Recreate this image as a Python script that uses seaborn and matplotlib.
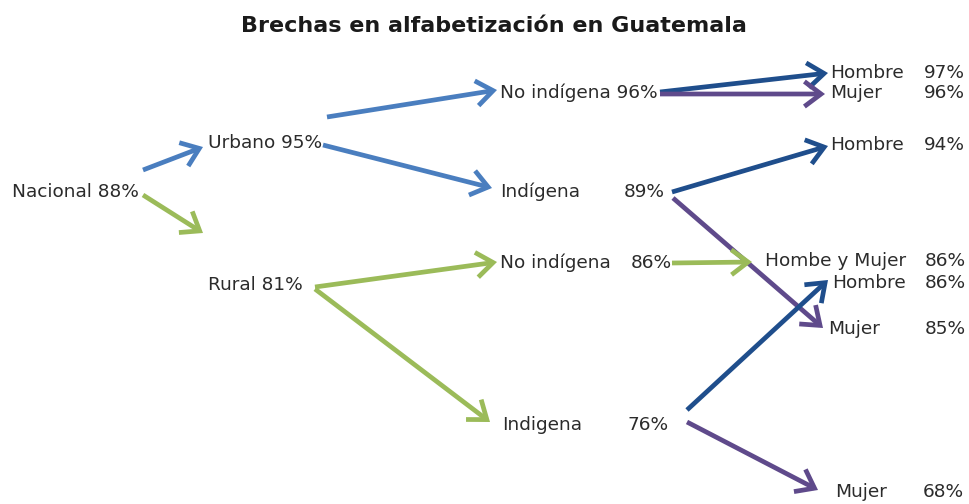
import matplotlib
matplotlib.use("Agg")
import matplotlib.pyplot as plt
from matplotlib.patches import FancyArrowPatch
import seaborn as sns

sns.set_theme(style="white")
plt.rcParams['font.family'] = ['DejaVu Sans']

title = "Brechas en alfabetización en Guatemala"

# Tree nodes: label and literacy rate (%)
labels = ["Nacional", "Urbano", "Rural",
          "No indígena", "Indígena", "No indígena", "Indigena",
          "Hombre", "Mujer", "Hombre", "Hombe y Mujer", "Hombre", "Mujer", "Mujer"]
values = [88, 95, 81, 96, 89, 86, 76, 97, 96, 94, 86, 86, 85, 68]

# Layout (pixel space): label x, y, value right edge (None -> value follows label)
label_x = [12, 208, 208, 500, 500, 500, 502, 830, 830, 830, 765, 832, 828, 835]
label_y = [192, 143, 285, 93, 192, 263, 425, 73, 93, 145, 261, 283, 329, 492]
value_r = [None, None, None, None, 665, 672, 669, 965, 965, 965, 966, 966, 966, 964]

# Edges: parent index -> child index, with style
edges_from = [0, 0, 1, 1, 2, 2, 3, 3, 4, 4, 5, 6, 6]
edges_to = [1, 2, 3, 4, 5, 6, 7, 8, 9, 12, 10, 11, 13]
edge_color = ["lightblue", "green", "lightblue", "lightblue", "green", "green",
              "darkblue", "purple", "darkblue", "purple", "green", "darkblue", "purple"]
# arrow start/end points (pixel space)
edge_start = [(143, 170), (143, 195), (327, 117), (323, 145), (315, 287), (315, 289),
              (660, 92), (660, 94), (672, 192), (673, 198), (672, 263), (687, 410), (687, 422)]
edge_end = [(203, 147), (203, 233), (497, 90), (492, 188), (497, 262), (490, 422),
            (828, 73), (825, 94), (828, 146), (823, 328), (752, 262), (828, 280), (818, 490)]

palette = {"lightblue": "#4a7ebf", "green": "#9bbb59",
           "darkblue": "#1f4e8c", "purple": "#5f4a8b"}

fig = plt.figure(figsize=(9.69, 5.04), dpi=100)
ax = fig.add_axes([0, 0, 1, 1])
ax.set_xlim(0, 969)
ax.set_ylim(504, 0)
ax.axis("off")

txt_color = "#2b2b2b"
fs = 13.3

for s, e, c in zip(edge_start, edge_end, edge_color):
    arr = FancyArrowPatch(s, e, arrowstyle="->,head_length=0.6,head_width=0.45",
                          mutation_scale=20, color=palette[c], lw=3.4,
                          shrinkA=0, shrinkB=0, capstyle="butt", joinstyle="miter")
    ax.add_patch(arr)

for lab, v, x, y, vr in zip(labels, values, label_x, label_y, value_r):
    if vr is None:
        ax.text(x, y, f"{lab} {v}%", fontsize=fs, color=txt_color, ha="left", va="center")
    else:
        ax.text(x, y, lab, fontsize=fs, color=txt_color, ha="left", va="center")
        ax.text(vr, y, f"{v}%", fontsize=fs, color=txt_color, ha="right", va="center")

ax.text(494, 26, title, fontsize=16, fontweight="bold", color="#1a1a1a",
        ha="center", va="center")

fig.savefig("out.png", dpi=100)
